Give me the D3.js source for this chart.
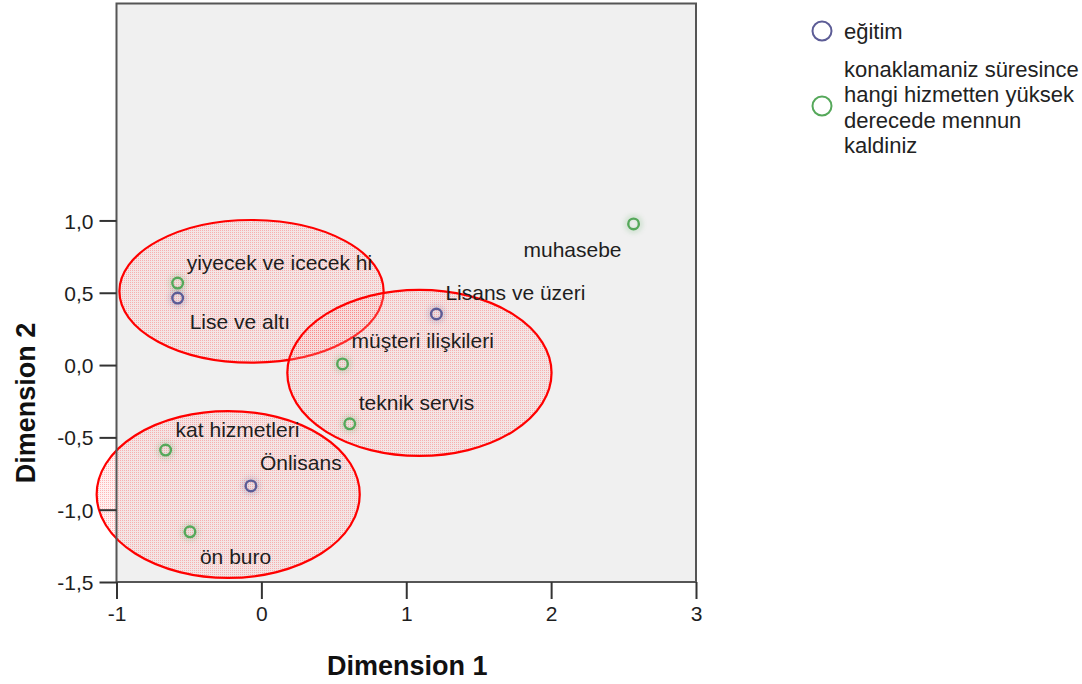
<!DOCTYPE html>
<html><head><meta charset="utf-8">
<script src="https://cdn.jsdelivr.net/npm/d3@7"></script>
<style>body{margin:0;background:#fff}svg{display:block}text{font-family:"Liberation Sans",Arial,sans-serif}</style>
</head><body><svg id="c" width="1082" height="684"></svg>
<script>
// ---- data ----
const pointLabels = ["yiyecek ve icecek hi","Lise ve altı","Lisans ve üzeri","muhasebe","müşteri ilişkileri","teknik servis","kat hizmetleri","Önlisans","ön buro"];
const pointGroup  = ["hizmet","egitim","egitim","hizmet","hizmet","hizmet","hizmet","egitim","hizmet"];
const dim1Values  = [-0.578,-0.578,1.208,2.569,0.560,0.610,-0.661,-0.072,-0.493];
const dim2Values  = [0.567,0.463,0.353,0.976,0.008,-0.406,-0.588,-0.836,-1.153];
const xTicks = [-1,0,1,2,3];
const yTicks = [-1.5,-1.0,-0.5,0.0,0.5,1.0];
const legendNames = ["eğitim","konaklamaniz süresince hangi hizmetten yüksek derecede mennun kaldiniz"];
const legendLines = [["eğitim"],["konaklamaniz süresince","hangi hizmetten yüksek","derecede mennun","kaldiniz"]];
// annotation ellipses (data units): centre x, centre y, radius x, radius y
const ellipseCx = [-0.068, 1.091, -0.229];
const ellipseCy = [0.510, -0.054, -0.895];
const ellipseRx = [0.912, 0.912, 0.908];
const ellipseRy = [0.493, 0.574, 0.577];

// ---- layout ----
const labelPlace = [[9,-13,"start"],[12,31,"start"],[9,-14,"start"],[-12,33,"end"],[9,-16,"start"],[9,-14,"start"],[10,-13,"start"],[9,-16,"start"],[10,32,"start"]];
const colors = {egitim:"#5c5c96", hizmet:"#55a85a"};
const svg = d3.select("#c");
const x = d3.scaleLinear().domain([-1,3]).range([116.5,696]);
const y = d3.scaleLinear().domain([-1.5,2.5]).range([582,3.5]);
const loc = d3.formatLocale({decimal:",",thousands:".",grouping:[3],currency:["",""],minus:"-"});

const defs = svg.append("defs");
const pat = defs.append("pattern").attr("id","dots").attr("width",2).attr("height",2).attr("patternUnits","userSpaceOnUse");
pat.append("rect").attr("width",2).attr("height",2).attr("fill","rgba(255,190,190,0.22)");
pat.append("rect").attr("width",1).attr("height",1).attr("fill","rgba(255,60,60,0.32)");
const blur = defs.append("filter").attr("id","glow").attr("x","-1").attr("y","-1").attr("width","3").attr("height","3");
blur.append("feGaussianBlur").attr("stdDeviation",2.5);

// plot background
svg.append("rect").attr("x",x(-1)).attr("y",y(2.5)).attr("width",x(3)-x(-1)).attr("height",y(-1.5)-y(2.5)).attr("fill","#f0f0f0");

// ellipses
svg.append("g").selectAll("ellipse").data(ellipseCx).join("ellipse")
  .attr("cx",(d,i)=>x(ellipseCx[i])).attr("cy",(d,i)=>y(ellipseCy[i]))
  .attr("rx",(d,i)=>x(ellipseRx[i])-x(0)).attr("ry",(d,i)=>y(0)-y(ellipseRy[i]))
  .attr("fill","url(#dots)").attr("stroke","#ff0000").attr("stroke-width",2.2);

// frame
svg.append("rect").attr("x",x(-1)).attr("y",y(2.5)).attr("width",x(3)-x(-1)).attr("height",y(-1.5)-y(2.5))
  .attr("fill","none").attr("stroke","#555").attr("stroke-width",2);

// axes
const ax = svg.append("g").attr("transform",`translate(0,${y(-1.5)})`)
  .call(d3.axisBottom(x).tickValues(xTicks).tickFormat(loc.format("d")).tickSize(17).tickSizeOuter(0).tickPadding(7));
const ay = svg.append("g").attr("transform",`translate(${x(-1)},0)`)
  .call(d3.axisLeft(y).tickValues(yTicks).tickFormat(loc.format(".1f")).tickSize(17).tickSizeOuter(0).tickPadding(6));
[ax,ay].forEach(g=>{
  g.select(".domain").remove();
  g.selectAll(".tick line").attr("stroke","#333").attr("stroke-width",2);
  g.selectAll(".tick text").attr("fill","#1e1e1e").style("font-size","21px").style("font-family","'Liberation Sans',Arial,sans-serif");
});
ay.selectAll(".tick text").attr("dy","0.36em");

// points
const pts = svg.append("g");
pts.selectAll("circle.h").data(dim1Values).join("circle").attr("class","h")
  .attr("cx",(d,i)=>x(dim1Values[i])).attr("cy",(d,i)=>y(dim2Values[i])).attr("r",7)
  .attr("fill","none").attr("stroke",(d,i)=>colors[pointGroup[i]]).attr("stroke-width",4).attr("opacity",0.25).attr("filter","url(#glow)");
pts.selectAll("circle.p").data(dim1Values).join("circle").attr("class","p")
  .attr("cx",(d,i)=>x(dim1Values[i])).attr("cy",(d,i)=>y(dim2Values[i])).attr("r",5.3)
  .attr("fill","none").attr("stroke",(d,i)=>colors[pointGroup[i]]).attr("stroke-width",2.4);

// labels
svg.append("g").selectAll("text").data(pointLabels).join("text")
  .attr("x",(d,i)=>x(dim1Values[i])+labelPlace[i][0]).attr("y",(d,i)=>y(dim2Values[i])+labelPlace[i][1])
  .attr("text-anchor",(d,i)=>labelPlace[i][2]).attr("fill","#1e1e1e").style("font-size","21px").text(d=>d);

// axis titles
svg.append("text").attr("x",(x(-1)+x(3))/2+1).attr("y",675).attr("text-anchor","middle")
  .style("font-size","27px").style("font-weight","bold").attr("fill","#111").text("Dimension 1");
svg.append("text").attr("transform","translate(35,403) rotate(-90)").attr("text-anchor","middle")
  .style("font-size","27px").style("font-weight","bold").attr("fill","#111").text("Dimension 2");

// legend
const lg = svg.append("g");
const legendKeys = ["egitim","hizmet"];
const legendCy = [31,106];
const legendBase = [[39],[77,102,128,153]];
legendKeys.forEach((k,i)=>{
  lg.append("circle").attr("cx",822).attr("cy",legendCy[i]).attr("r",9.5).attr("fill","none").attr("stroke",colors[k]).attr("stroke-width",2);
  legendLines[i].forEach((t,j)=>{
    lg.append("text").attr("x",844).attr("y",legendBase[i][j]).attr("fill","#222").style("font-size","22px").text(t);
  });
});
</script></body></html>
